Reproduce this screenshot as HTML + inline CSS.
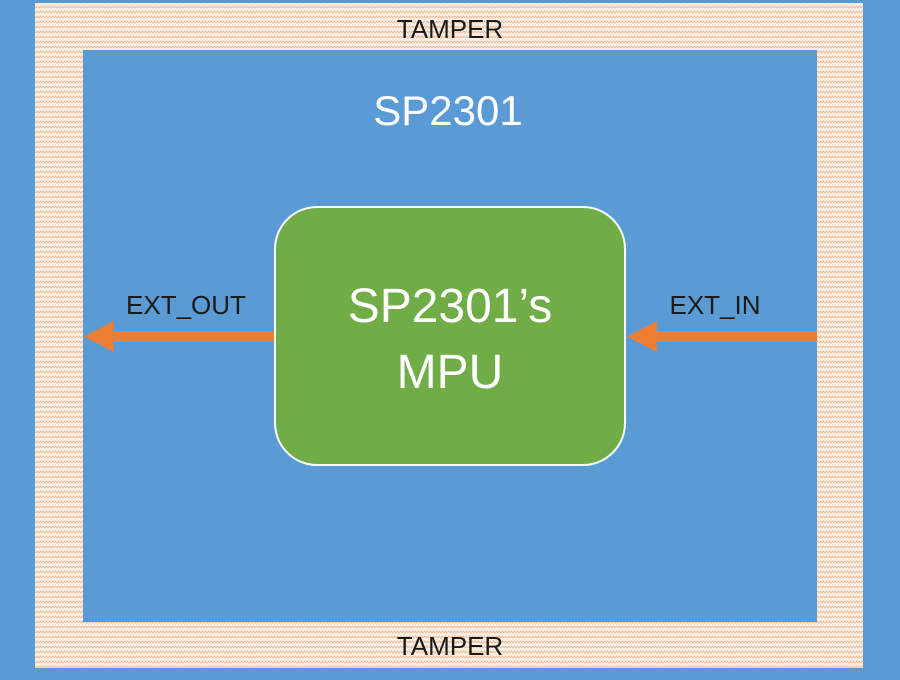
<!DOCTYPE html>
<html><head><style>
body{margin:0;width:900px;height:675px;overflow:hidden;background:#5b9bd5;font-family:"Liberation Sans","DejaVu Sans",sans-serif}
</style></head><body>
<svg width="900" height="675" xmlns="http://www.w3.org/2000/svg">
<defs>
<pattern id="h" width="6" height="5" patternUnits="userSpaceOnUse">
<rect width="6" height="5" fill="#fbeee2"/>
<path d="M0 3 L1.5 1 L3 3 L4.5 1 L6 3" stroke="#eab892" stroke-width="0.8" fill="none"/>
</pattern>
</defs>
<rect width="900" height="675" fill="#5b9bd5"/>
<rect x="35" y="3" width="828" height="665" fill="url(#h)"/>
<rect x="83" y="50" width="734" height="572" fill="#5b9bd5"/>
<text x="450" y="38" font-size="26" text-anchor="middle" fill="#1a1a1a">TAMPER</text>
<text x="450" y="655" font-size="26" text-anchor="middle" fill="#1a1a1a">TAMPER</text>
<text x="448" y="125" font-size="42" text-anchor="middle" fill="#fff">SP2301</text>
<rect x="275" y="207" width="350" height="258" rx="42" fill="#70ad47" stroke="#fff" stroke-width="2"/>
<text x="450" y="322" font-size="48" text-anchor="middle" fill="#fff">SP2301’s</text>
<text x="450" y="388" font-size="48" text-anchor="middle" fill="#fff">MPU</text>
<text x="186" y="314" font-size="26" text-anchor="middle" fill="#1a1a1a">EXT_OUT</text>
<text x="715" y="314" font-size="26" text-anchor="middle" fill="#1a1a1a">EXT_IN</text>
<rect x="112" y="331" width="162" height="11" fill="#ed7d31"/>
<polygon points="84,336.5 114,321 114,352" fill="#ed7d31"/>
<rect x="655" y="331" width="162" height="11" fill="#ed7d31"/>
<polygon points="627,336.5 657,321 657,352" fill="#ed7d31"/>
</svg>
</body></html>
